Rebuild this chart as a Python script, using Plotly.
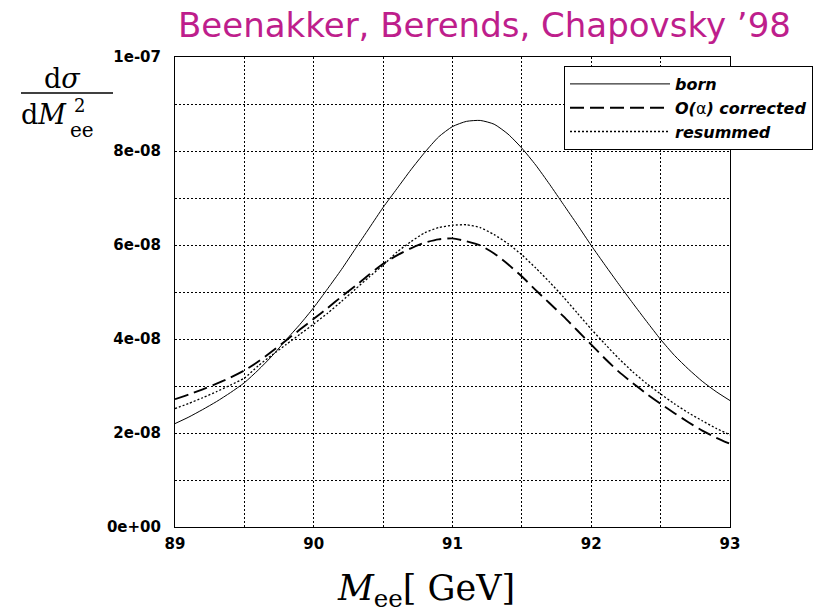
import plotly.graph_objects as go

# Invariant mass of the e+e- pair [GeV]
mass = [89.0, 89.1, 89.2, 89.3, 89.4, 89.5, 89.6, 89.7, 89.8, 89.9,
        90.0, 90.1, 90.2, 90.3, 90.4, 90.5, 90.6, 90.7, 90.8, 90.9,
        91.0, 91.1, 91.2, 91.3, 91.4, 91.5, 91.6, 91.7, 91.8, 91.9,
        92.0, 92.1, 92.2, 92.3, 92.4, 92.5, 92.6, 92.7, 92.8, 92.9,
        93.0]

# d sigma / d M_ee^2, in units of 1e-8
UNIT = 1e-8
born = [2.20, 2.34, 2.50, 2.67, 2.86, 3.07, 3.34, 3.64, 3.98, 4.31,
        4.67, 5.07, 5.48, 5.92, 6.36, 6.80, 7.20, 7.60, 7.97, 8.30,
        8.52, 8.63, 8.65, 8.57, 8.36, 8.06, 7.70, 7.29, 6.86, 6.43,
        5.99, 5.57, 5.16, 4.76, 4.37, 3.99, 3.65, 3.36, 3.10, 2.88,
        2.69]
o_alpha = [2.72, 2.82, 2.93, 3.05, 3.18, 3.33, 3.52, 3.74, 3.97, 4.20,
           4.43, 4.66, 4.90, 5.13, 5.37, 5.60, 5.78, 5.93, 6.05, 6.12,
           6.14, 6.08, 5.99, 5.82, 5.59, 5.33, 5.04, 4.76, 4.48, 4.18,
           3.88, 3.58, 3.30, 3.06, 2.83, 2.62, 2.42, 2.23, 2.05, 1.90,
           1.77]
resummed = [2.52, 2.63, 2.75, 2.88, 3.02, 3.17, 3.43, 3.66, 3.88, 4.10,
            4.32, 4.55, 4.80, 5.06, 5.32, 5.57, 5.85, 6.07, 6.26, 6.37,
            6.42, 6.43, 6.37, 6.22, 6.03, 5.79, 5.51, 5.21, 4.89, 4.55,
            4.21, 3.89, 3.58, 3.30, 3.05, 2.83, 2.62, 2.43, 2.26, 2.10,
            1.96]

x_tickvals = [89, 90, 91, 92, 93]
x_ticktext = ["89", "90", "91", "92", "93"]
y_tickvals = [0, 2e-8, 4e-8, 6e-8, 8e-8, 1e-7]
y_ticktext = ["0e+00", "2e-08", "4e-08", "6e-08", "8e-08", "1e-07"]

series_names = ["born",
                "O(<span style='font-style:normal;font-weight:normal'>α</span>) corrected",
                "resummed"]

W, H = 814, 612
L, R, T, B = 175, 84, 57, 85
PW, PH = W - L - R, H - T - B


def px(xp):
    return (xp - L) / PW


def py(yp):
    return (H - B - yp) / PH


fig = go.Figure()
styles = [
    dict(color="black", width=1.0, dash="solid"),
    dict(color="black", width=1.9, dash="14px,6px"),
    dict(color="black", width=1.3, dash="2px,2px"),
]
for name, vals, st in zip(series_names, [born, o_alpha, resummed], styles):
    fig.add_trace(go.Scatter(
        x=mass, y=[v * UNIT for v in vals], mode="lines", name=name,
        line=dict(shape="spline", smoothing=0.6, **st),
    ))

tick_font = dict(family="DejaVu Sans", size=15, color="black", weight="bold")
grid = dict(showgrid=True, gridcolor="black", gridwidth=1, griddash="2px,2px")
axis_common = dict(
    showline=True, mirror=True, linecolor="black", linewidth=1,
    zeroline=False, ticks="", tickfont=tick_font, **grid,
)
fig.update_xaxes(range=[89, 93], tickmode="array", tickvals=x_tickvals,
                 ticktext=x_ticktext, ticklabelstandoff=3,
                 minor=dict(tick0=89, dtick=0.5, ticks="", **grid),
                 **axis_common)
fig.update_yaxes(range=[0, 1e-7], tickmode="array", tickvals=y_tickvals,
                 ticktext=y_ticktext, ticklabelstandoff=10,
                 minor=dict(tick0=0, dtick=1e-8, ticks="", **grid),
                 **axis_common)

fig.update_layout(
    width=W, height=H,
    margin=dict(l=L, r=R, t=T, b=B, pad=0, autoexpand=False),
    paper_bgcolor="white", plot_bgcolor="white",
    showlegend=True,
    legend=dict(
        x=px(564), y=py(66), xanchor="left", yanchor="top",
        bgcolor="white", bordercolor="black", borderwidth=1,
        font=dict(family="DejaVu Sans", size=16, color="black",
                  weight="bold", style="italic"),
        itemwidth=100, tracegroupgap=0,
    ),
)

serif = "DejaVu Serif"
annotations = [
    # title
    dict(x=px(176), y=py(25), xanchor="left", yanchor="middle",
         text="Beenakker, Berends, Chapovsky ’98",
         font=dict(family="DejaVu Sans", size=34, color="rgb(190,30,140)")),
    # x-axis label
    dict(x=px(426), y=py(590), xanchor="center", yanchor="middle",
         text="<i>M</i><sub>ee</sub>[ GeV]",
         font=dict(family=serif, size=35, color="black")),
    # y-axis label: d sigma over d M_ee^2
    dict(x=px(62), y=py(79), xanchor="center", yanchor="middle",
         text="d<i>σ</i>", font=dict(family=serif, size=27, color="black")),
    dict(x=px(69), y=py(114), xanchor="right", yanchor="middle",
         text="d<i>M</i>", font=dict(family=serif, size=27, color="black")),
    dict(x=px(73), y=py(117), xanchor="left", yanchor="bottom",
         text="2", font=dict(family=serif, size=18, color="black"),
         borderpad=0),
    dict(x=px(69), y=py(117), xanchor="left", yanchor="top",
         text="ee", font=dict(family=serif, size=20, color="black"),
         borderpad=0),
]
for a in annotations:
    a.update(xref="paper", yref="paper", showarrow=False)
fig.update_layout(annotations=annotations)

fig.add_shape(type="line", xref="paper", yref="paper",
              x0=px(21), x1=px(113), y0=py(93), y1=py(93),
              line=dict(color="black", width=1.5))

fig.write_html("out.html")
